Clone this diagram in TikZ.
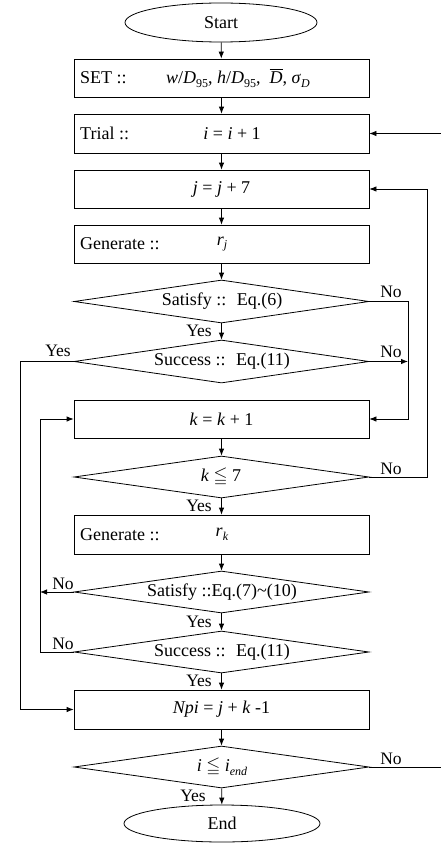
\documentclass[tikz,border=0pt]{standalone}
\usepackage{amssymb}
\usepackage{fontspec}
\setmainfont{Liberation Serif}
\usetikzlibrary{shapes.geometric,arrows.meta}
\newcommand\lowr[1]{\raisebox{-0.45ex}{\fontsize{12}{12}\selectfont #1}}
\newcommand\itx[1]{\textit{#1}}
\begin{document}
\begin{tikzpicture}[x=1pt,y=-1pt,
  every node/.style={font=\fontsize{18}{20}\selectfont},
  line/.style={line width=0.8pt},
  arr/.style={line width=0.8pt,-{Latex[length=7pt,width=5.5pt]}},
  boxnode/.style={draw,line width=0.8pt,rectangle,minimum width=295pt,minimum height=38pt,inner sep=0pt},
  decnode/.style={draw,line width=0.8pt,diamond,minimum width=295pt,minimum height=43pt,inner sep=0pt},
  termnode/.style={draw,line width=0.8pt,ellipse,minimum width=192pt,minimum height=39pt,inner sep=0pt},
  lbl/.style={font=\fontsize{17.5}{19}\selectfont,inner sep=0pt},
  txt/.style={inner sep=0pt}]
\useasboundingbox (0,0) rectangle (441,843);

% nodes
\node[termnode] (start) at (221,22.5) {Start};
\node[boxnode] (set) at (221.5,78) {};
\node[txt,anchor=west] (setl) at (80,78) {SET ::};
\node[txt] (sett) at (238,78) {\itx{w}/\itx{D}\lowr{95}, \itx{h}/\itx{D}\lowr{95}, \ $\overline{\mbox{\itx{D}}}$, \itx{σ}\lowr{\itx{D}}};
\node[boxnode,minimum height=39pt] (trial) at (221.5,133.5) {};
\node[txt,anchor=west] (triall) at (80,133.5) {Trial ::};
\node[txt] (trialt) at (232,133.5) {\itx{i} = \itx{i} + 1};
\node[boxnode] (j) at (221.5,189) {\itx{j} = \itx{j} + 7};
\node[boxnode] (genj) at (221.5,244) {};
\node[txt,anchor=west] (genjl) at (80,244) {Generate ::};
\node[txt] (genjt) at (222,244) {\itx{r}\lowr{\itx{j}}};
\node[decnode] (sat6) at (221.5,301.5) {};
\node[txt] (sat6t) at (222,301.5) {Satisfy :: \ Eq.(6)};
\node[decnode] (succ1) at (221.5,361.5) {};
\node[txt] (succ1t) at (222,361.5) {Success :: \ Eq.(11)};
\node[boxnode] (k) at (221.5,419) {\itx{k} = \itx{k} + 1};
\node[decnode,minimum height=42pt] (k7) at (221.5,477) {};
\node[txt] (k7t) at (221,477) {\itx{k} $\leqq$ 7};
\node[boxnode,minimum height=39pt] (genk) at (221.5,534.5) {};
\node[txt,anchor=west] (genkl) at (80,534.5) {Generate ::};
\node[txt] (genkt) at (222,534.5) {\itx{r}\lowr{\itx{k}}};
\node[decnode,minimum height=42pt] (sat710) at (221.5,592) {};
\node[txt] (sat710t) at (222,592) {Satisfy ::Eq.(7)\textasciitilde(10)};
\node[decnode,minimum height=42pt] (succ2) at (221.5,652) {};
\node[txt] (succ2t) at (222,652) {Success :: \ Eq.(11)};
\node[boxnode,minimum height=39pt] (npi) at (221.5,709.5) {\itx{Npi} = \itx{j} + \itx{k} -1};
\node[decnode,minimum height=42pt] (iend) at (221.5,767) {};
\node[txt] (iendt) at (222,767) {\itx{i} $\leqq$ \itx{i}\lowr{\itx{end}}};
\node[termnode,minimum width=196pt,minimum height=37pt] (end) at (222,823.5) {End};

% labels
\node[lbl] (l1) at (391,292) {No};
\node[lbl] (l2) at (199,331) {Yes};
\node[lbl] (l3) at (58,351) {Yes};
\node[lbl] (l4) at (391,352) {No};
\node[lbl] (l5) at (391,469) {No};
\node[lbl] (l6) at (199,506) {Yes};
\node[lbl] (l7) at (63,584) {No};
\node[lbl] (l8) at (199,622) {Yes};
\node[lbl] (l9) at (63,644) {No};
\node[lbl] (l10) at (199,681) {Yes};
\node[lbl] (l11) at (391,759) {No};
\node[lbl] (l12) at (193,796) {Yes};

% helper coordinates
\coordinate (r1) at (408,0);
\coordinate (r2) at (427,0);
\coordinate (rt) at (441,133.5);
\coordinate (re) at (441,767);
\coordinate (lA) at (20,0);
\coordinate (lB) at (40,0);

% main flow
\draw[arr] (start) -- (set);
\draw[arr] (set) -- (trial);
\draw[arr] (trial) -- (j);
\draw[arr] (j) -- (genj);
\draw[arr] (genj) -- (sat6);
\draw[arr] (sat6) -- (succ1);
\draw[arr] (k) -- (k7);
\draw[arr] (k7) -- (genk);
\draw[arr] (genk) -- (sat710);
\draw[arr] (sat710) -- (succ2);
\draw[arr] (succ2) -- (npi);
\draw[arr] (npi) -- (iend);
\draw[arr] (iend) -- (end);

% loops
\draw[arr] (rt) -- (trial.east);
\draw[line] (iend.east) -- (re);
\draw[arr] (sat6.east) -- (sat6.east -| r1) -- (r1 |- k.east) -- (k.east);
\draw[arr] (succ1.east) -- (succ1.east -| r1);
\draw[arr] (k7.east) -- (k7.east -| r2) -- (r2 |- j.east) -- (j.east);
\draw[arr] (succ1.west) -- (succ1.west -| lA) -- (lA |- npi.west) -- (npi.west);
\draw[arr] (succ2.west) -- (succ2.west -| lB) -- (lB |- k.west) -- (k.west);
\draw[arr] (sat710.west) -- (sat710.west -| lB);
\end{tikzpicture}
\end{document}
